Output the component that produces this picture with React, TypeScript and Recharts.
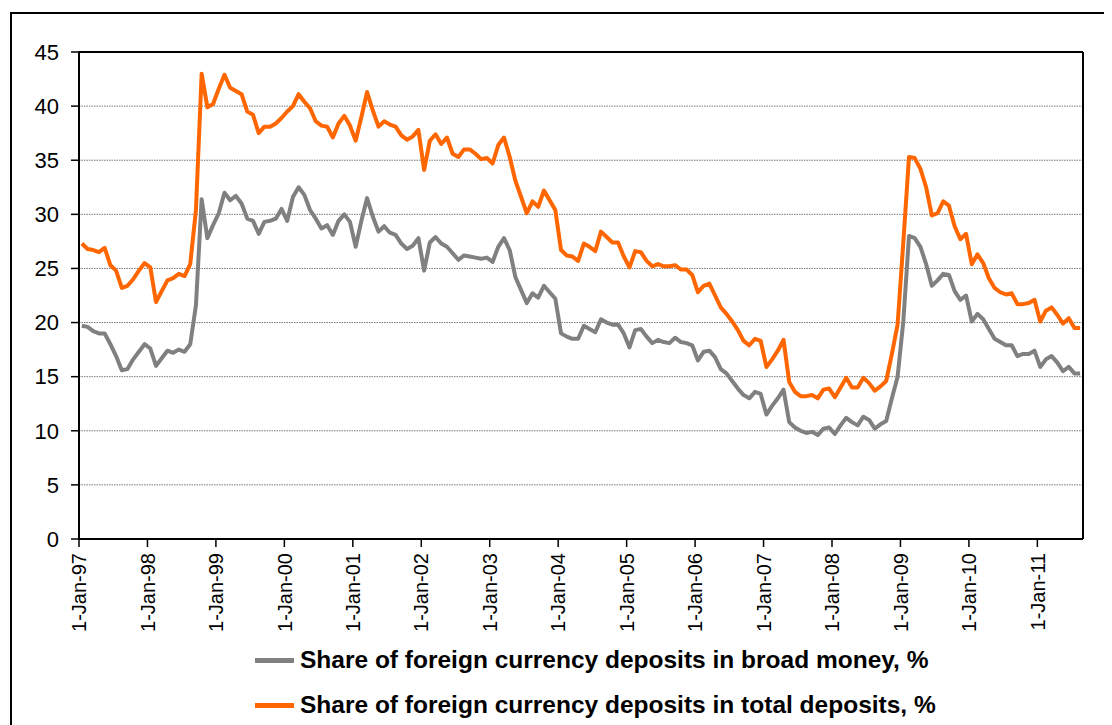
import React from 'react';
import {
  LineChart,
  Line,
  XAxis,
  YAxis,
  CartesianGrid,
  Legend,
  ReferenceLine,
} from 'recharts';

// month index 0 = Jan-97 ... 175 = Aug-11
const yearLabels = [
  '1-Jan-97', '1-Jan-98', '1-Jan-99', '1-Jan-00', '1-Jan-01', '1-Jan-02', '1-Jan-03', '1-Jan-04',
  '1-Jan-05', '1-Jan-06', '1-Jan-07', '1-Jan-08', '1-Jan-09', '1-Jan-10', '1-Jan-11',
];

const yTicks = [0, 5, 10, 15, 20, 25, 30, 35, 40, 45];

const broadMoney = [
  19.7, 19.6, 19.2, 19.0, 19.0, 18.0, 16.9, 15.6, 15.7, 16.6, 17.3, 18.0,
  17.6, 16.0, 16.7, 17.4, 17.2, 17.5, 17.3, 18.0, 21.6, 31.4, 27.8, 29.0,
  30.1, 32.0, 31.3, 31.7, 31.0, 29.6, 29.4, 28.2, 29.3, 29.4, 29.6, 30.5,
  29.4, 31.6, 32.5, 31.8, 30.4, 29.6, 28.7, 29.0, 28.1, 29.4, 30.0, 29.3,
  27.0, 29.4, 31.5, 29.8, 28.4, 28.9, 28.3, 28.1, 27.3, 26.8, 27.1, 27.8,
  24.8, 27.4, 27.9, 27.3, 27.0, 26.4, 25.8, 26.2, 26.1, 26.0, 25.9, 26.0,
  25.6, 27.0, 27.8, 26.7, 24.2, 23.0, 21.8, 22.7, 22.3, 23.4, 22.8, 22.2,
  19.0, 18.7, 18.5, 18.5, 19.7, 19.4, 19.1, 20.3, 20.0, 19.8, 19.8, 19.0,
  17.7, 19.3, 19.4, 18.7, 18.1, 18.4, 18.2, 18.1, 18.6, 18.2, 18.1, 17.9,
  16.5, 17.3, 17.4, 16.8, 15.7, 15.3, 14.6, 13.9, 13.3, 13.0, 13.6, 13.4,
  11.5, 12.3, 13.0, 13.8, 10.8, 10.3, 10.0, 9.8, 9.9, 9.6, 10.2, 10.3,
  9.7, 10.5, 11.2, 10.8, 10.5, 11.3, 11.0, 10.2, 10.6, 10.9, 13.0, 15.0,
  20.1, 28.0, 27.8, 27.0, 25.4, 23.4, 23.9, 24.5, 24.4, 22.9, 22.1, 22.5,
  20.1, 20.8, 20.3, 19.4, 18.5, 18.2, 17.9, 17.9, 16.9, 17.1, 17.1, 17.4,
  15.9, 16.6, 16.9, 16.3, 15.5, 15.9, 15.3, 15.3,
];

const totalDeposits = [
  27.3, 26.8, 26.7, 26.5, 26.9, 25.3, 24.8, 23.2, 23.4, 24.0, 24.8, 25.5,
  25.1, 21.9, 22.9, 23.9, 24.1, 24.5, 24.3, 25.4, 30.4, 43.0, 39.9, 40.2,
  41.6, 42.9, 41.7, 41.4, 41.1, 39.5, 39.2, 37.5, 38.1, 38.1, 38.4, 38.9,
  39.5, 40.0, 41.1, 40.4, 39.8, 38.6, 38.2, 38.1, 37.1, 38.4, 39.1, 38.2,
  36.8, 39.0, 41.3, 39.6, 38.1, 38.6, 38.3, 38.1, 37.3, 36.9, 37.2, 37.8,
  34.1, 36.8, 37.4, 36.5, 37.1, 35.6, 35.3, 36.0, 36.0, 35.6, 35.1, 35.2,
  34.7, 36.4, 37.1, 35.3, 33.1, 31.6, 30.1, 31.2, 30.7, 32.2, 31.3, 30.4,
  26.7, 26.2, 26.1, 25.7, 27.3, 27.0, 26.6, 28.4, 27.9, 27.4, 27.4, 26.1,
  25.1, 26.6, 26.5, 25.7, 25.2, 25.4, 25.2, 25.2, 25.3, 24.9, 24.9, 24.4,
  22.8, 23.4, 23.6, 22.5, 21.4, 20.8, 20.1, 19.3, 18.3, 17.9, 18.5, 18.3,
  15.9, 16.6, 17.4, 18.4, 14.5, 13.6, 13.2, 13.2, 13.3, 13.0, 13.8, 13.9,
  13.1, 14.0, 14.9, 14.0, 14.0, 14.9, 14.4, 13.7, 14.1, 14.6, 17.1, 19.8,
  27.4, 35.3, 35.2, 34.2, 32.5, 29.9, 30.1, 31.2, 30.8, 28.9, 27.7, 28.2,
  25.4, 26.3, 25.5, 24.1, 23.2, 22.8, 22.6, 22.7, 21.7, 21.7, 21.8, 22.1,
  20.1, 21.1, 21.4, 20.7, 19.9, 20.4, 19.5, 19.5,
];

const seriesNames = [
  'Share of foreign currency deposits in broad money, %',
  'Share of foreign currency deposits in total deposits, %',
];
const seriesColors = ['#808080', '#FF6600'];

// points sit in the middle of their month
const data = broadMoney.map((v, i) => ({
  month: i + 0.5,
  broad: v,
  total: totalDeposits[i],
}));

const FONT = '"Liberation Sans", Arial, sans-serif';

const DateTick = (props: any) => {
  const { x, y, payload } = props;
  const label = yearLabels[Math.round(payload.value / 12)];
  return (
    <text
      x={x}
      y={y}
      transform={`rotate(-90, ${x}, ${y})`}
      textAnchor="end"
      dy="0.36em"
      fontSize={20}
      fontFamily={FONT}
      fill="#000"
    >
      {label}
    </text>
  );
};

const LegendBox = () => (
  <div
    style={{
      position: 'relative',
      height: 90,
      width: 1104,
      fontFamily: FONT,
      fontWeight: 'bold',
      fontSize: 24.5,
      color: '#000',
    }}
  >
    {seriesNames.map((name, k) => (
      <div
        key={name}
        style={{
          position: 'absolute',
          left: 247,
          top: 25 + k * 45 - 15,
          height: 30,
          display: 'flex',
          alignItems: 'center',
          whiteSpace: 'nowrap',
        }}
      >
        <span
          style={{
            display: 'inline-block',
            width: 39,
            height: 5,
            background: seriesColors[k],
            marginRight: 6,
          }}
        />
        <span>{name}</span>
      </div>
    ))}
  </div>
);

export default function App() {
  return (
    <div style={{ position: 'relative', width: 1104, height: 717, background: '#fff' }}>
      <div
        style={{
          position: 'absolute',
          left: 2,
          top: 4,
          right: 0,
          bottom: 0,
          borderLeft: '2px solid #000',
          borderTop: '2px solid #000',
        }}
      />
      <div style={{ position: 'absolute', left: 0, top: 0 }}>
        <LineChart
          width={1104}
          height={717}
          data={data}
          margin={{ top: 44, right: 29, left: 11, bottom: 0 }}
        >
          <CartesianGrid
            vertical={false}
            stroke="#777"
            strokeDasharray="1.5 1"
          />
          <XAxis
            dataKey="month"
            type="number"
            domain={[0, 176]}
            ticks={yearLabels.map((_, k) => k * 12)}
            interval={0}
            height={96}
            tickSize={8}
            tickMargin={6}
            tick={<DateTick />}
            axisLine={{ stroke: '#000', strokeWidth: 2 }}
            tickLine={{ stroke: '#000', strokeWidth: 1.5 }}
          />
          <YAxis
            domain={[0, 45]}
            ticks={yTicks}
            interval={0}
            width={60}
            tickSize={8}
            tickMargin={12}
            tick={{ fontSize: 22, fill: '#000', fontFamily: FONT }}
            axisLine={{ stroke: '#000', strokeWidth: 2 }}
            tickLine={{ stroke: '#000', strokeWidth: 1.5 }}
          />
          <ReferenceLine y={45} stroke="#000" strokeWidth={2} />
          <ReferenceLine x={176} stroke="#000" strokeWidth={2} />
          <Line
            type="linear"
            dataKey="broad"
            name={seriesNames[0]}
            stroke={seriesColors[0]}
            strokeWidth={4}
            strokeLinejoin="round"
            dot={false}
            activeDot={false}
            isAnimationActive={false}
          />
          <Line
            type="linear"
            dataKey="total"
            name={seriesNames[1]}
            stroke={seriesColors[1]}
            strokeWidth={4}
            strokeLinejoin="round"
            dot={false}
            activeDot={false}
            isAnimationActive={false}
          />
          <Legend
            verticalAlign="bottom"
            content={() => <LegendBox />}
            wrapperStyle={{ left: 0, width: 1104 }}
          />
        </LineChart>
      </div>
    </div>
  );
}
